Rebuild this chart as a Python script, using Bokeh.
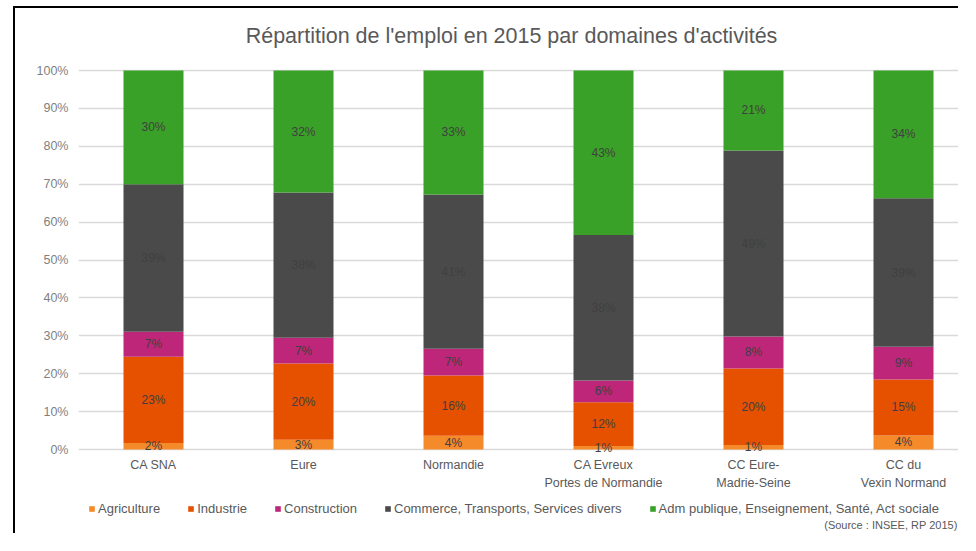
from bokeh.plotting import figure
from bokeh.models import (ColumnDataSource, Range1d, FixedTicker, PrintfTickFormatter,
                          Legend, LegendItem, Label)
from bokeh.core.properties import value
from bokeh.embed import file_html
from bokeh.resources import INLINE

# ---- data ----
categories = ["CA SNA", "Eure", "Normandie", "CA Evreux\nPortes de Normandie",
              "CC Eure-\nMadrie-Seine", "CC du\nVexin Normand"]
agriculture = [1.7, 2.6, 3.6, 0.9, 1.2, 3.7]
industrie = [22.8, 20.1, 15.9, 11.6, 20.2, 14.8]
construction = [6.6, 6.8, 7.1, 5.7, 8.4, 8.6]
commerce = [38.9, 38.3, 40.7, 38.4, 49.1, 39.2]
adm_publique = [30.0, 32.2, 32.7, 43.4, 21.1, 33.7]

series_names = ["Agriculture", "Industrie", "Construction",
                "Commerce, Transports, Services divers",
                "Adm publique, Enseignement, Santé, Act sociale"]
series_values = [agriculture, industrie, construction, commerce, adm_publique]
colors = ["#F58A2B", "#E65100", "#BE2679", "#4A4A4A", "#3AA128"]
y_ticks = [0, 10, 20, 30, 40, 50, 60, 70, 80, 90, 100]

title_text = "Répartition de l'emploi en 2015 par domaines d'activités"
source_text = "(Source : INSEE, RP 2015)"

FONT = "Liberation Sans"

# ---- layout (pixels) ----
W, H = 945, 527
LEFT = 63
TOP_PX = 62                        # space above the 100 % line
frame_w = W - LEFT
plot_px = 379                      # pixel height of the 0..100 % band
per_px = 100 / plot_px
y_top = 100 + TOP_PX * per_px
y_bottom = -(H - TOP_PX - plot_px) * per_px

p = figure(width=W, height=H, output_backend="svg", toolbar_location=None,
           x_range=Range1d(-0.5, -0.5 + frame_w / 150),
           y_range=Range1d(y_bottom, y_top),
           min_border_left=LEFT, min_border_right=0, min_border_top=0,
           min_border_bottom=0)
p.styles = {"border-top": "2px solid #000000", "border-left": "2px solid #000000",
            "margin-left": "13px", "margin-top": "6px"}
p.outline_line_color = None
p.background_fill_color = "white"
p.border_fill_color = "white"

xs = list(range(len(categories)))
keys = ["s%d" % i for i in range(len(series_values))]
data = {"x": xs}
for k, v in zip(keys, series_values):
    data[k] = v
src = ColumnDataSource(data)

renderers = p.vbar_stack(keys, x="x", width=0.4, color=colors, source=src,
                         line_color=None)

# grid
p.ygrid.ticker = FixedTicker(ticks=y_ticks)
p.ygrid.grid_line_color = "#D9D9D9"
p.ygrid.grid_line_width = 1.5
p.xgrid.grid_line_color = None

# segment labels
lx, ly, lt = [], [], []
for i in range(len(categories)):
    base = 0.0
    for v in series_values:
        seg = v[i]
        lx.append(i)
        ly.append(base + seg / 2)
        lt.append("%d%%" % round(seg))
        base += seg
p.text(x=lx, y=ly, text=lt, text_align="center", text_baseline="middle",
       text_font=value(FONT), text_font_size="12px", text_color="#404040")

# category labels (x axis text, drawn under the 0 % line)
p.text(x=xs, y=[0] * len(xs), text=categories, y_offset=8,
       text_align="center", text_baseline="top", text_line_height=1.35,
       text_font=value(FONT), text_font_size="12.5px", text_color="#595959")
p.xaxis.visible = False

# y axis
p.yaxis.ticker = FixedTicker(ticks=y_ticks)
p.yaxis.formatter = PrintfTickFormatter(format="%d%%")
p.yaxis.major_tick_line_color = None
p.yaxis.minor_tick_line_color = None
p.yaxis.axis_line_color = None
p.yaxis.major_label_standoff = 4
p.yaxis.major_label_text_font = FONT
p.yaxis.major_label_text_font_size = "12.5px"
p.yaxis.major_label_text_color = "#7F7F7F"

# title
p.add_layout(Label(x=-0.5 + (511 - 78) / 150, y=100 + 35 * per_px, text=title_text,
                   text_align="center", text_baseline="middle", text_font=FONT,
                   text_font_size="21.5px", text_color="#595959"))

# legend
items = [LegendItem(label=n, renderers=[r]) for n, r in zip(series_names, renderers)]
legend = Legend(items=items, orientation="horizontal", location=(10, 19),
                glyph_width=7, glyph_height=7, label_standoff=3, spacing=27,
                padding=0, margin=0, label_height=14,
                label_text_font=FONT, label_text_font_size="13px",
                label_text_color="#595959", border_line_color=None,
                background_fill_alpha=0)
p.add_layout(legend, "center")

# source
p.add_layout(Label(x=-0.5 + (frame_w - 3) / 150, y=y_bottom + 11 * per_px,
                   text=source_text, text_align="right", text_baseline="middle",
                   text_font=FONT, text_font_size="11px", text_color="#595959"))

open("out.html", "w").write(file_html(p, INLINE))
